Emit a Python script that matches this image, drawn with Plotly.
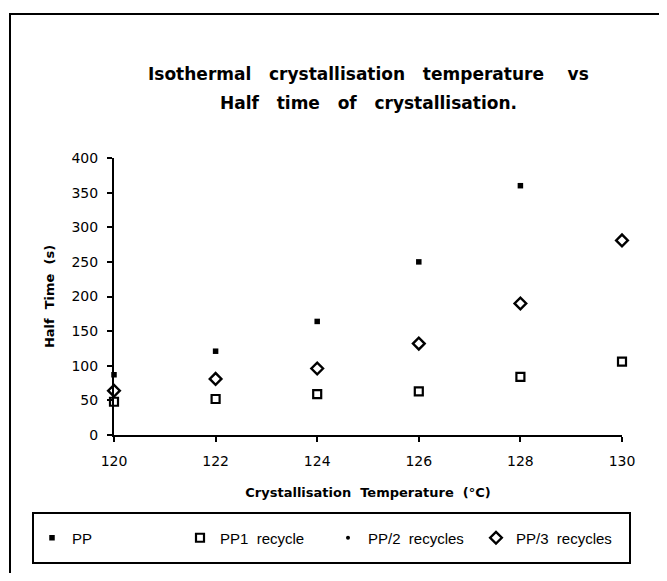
import plotly.graph_objects as go

temps = [120, 122, 124, 126, 128, 130]
pp = [87, 121, 164, 250, 360, None]
pp1 = [48, 52, 59, 63, 84, 106]
pp2 = [None, None, None, None, None, None]
pp3 = [64, 81, 96, 132, 190, 281]
x_ticks = [120, 122, 124, 126, 128, 130]
y_ticks = [0, 50, 100, 150, 200, 250, 300, 350, 400]

NB = "\u00a0"
title_l1 = f"Isothermal{NB}{NB}{NB}crystallisation{NB}{NB}{NB}temperature{NB}{NB}{NB}{NB}vs"
title_l2 = f"Half{NB}{NB}{NB}time{NB}{NB}{NB}of{NB}{NB}{NB}crystallisation."
x_title = f"Crystallisation{NB}{NB}Temperature{NB}{NB}(°C)"
y_title = f"Half{NB}{NB}Time{NB}{NB}(s)"

OFF = 8  # page body margin
W, H = 651, 565
# plot area in page pixels
PL, PR, PT, PB = 114, 622, 158, 435
L, R, T, B = PL - OFF, PR - OFF, PT - OFF, PB - OFF


def px(x):
    return (x - OFF - L) / (R - L)


def py(y):
    return (B - (y - OFF)) / (B - T)


fig = go.Figure()
fig.add_trace(go.Scatter(x=temps, y=pp, mode="markers", name="PP", cliponaxis=False,
                         marker=dict(symbol="square", size=5.5, color="black")))
fig.add_trace(go.Scatter(x=temps, y=pp1, mode="markers", name=f"PP1{NB}{NB}recycle", cliponaxis=False,
                         marker=dict(symbol="square-open", size=8, color="black", line=dict(width=2.2))))
fig.add_trace(go.Scatter(x=temps, y=pp2, mode="markers", name=f"PP/2{NB}{NB}recycles", cliponaxis=False,
                         marker=dict(symbol="circle", size=4, color="black")))
fig.add_trace(go.Scatter(x=temps, y=pp3, mode="markers", name=f"PP/3{NB}{NB}recycles", cliponaxis=False,
                         marker=dict(symbol="diamond-open", size=9, color="black", line=dict(width=2.4))))

axis_font = dict(family="DejaVu Sans", size=14, color="black")
title_font = dict(family="DejaVu Sans", size=17, weight="bold", color="black")

fig.update_layout(
    width=W, height=H,
    margin=dict(l=L, r=W - R, t=T, b=H - B),
    paper_bgcolor="white", plot_bgcolor="white",
    font=dict(family="Liberation Sans, Arial", color="black"),
    annotations=[
        dict(text=title_l1, xref="paper", yref="paper", x=px(368), y=py(74),
             xanchor="center", yanchor="middle", showarrow=False, font=title_font),
        dict(text=title_l2, xref="paper", yref="paper", x=px(368), y=py(103),
             xanchor="center", yanchor="middle", showarrow=False, font=title_font),
    ],
    xaxis=dict(range=[120, 130], tickvals=x_ticks, ticktext=[str(v) for v in x_ticks],
               showline=True, linecolor="black", linewidth=2, mirror=False,
               ticks="outside", ticklen=5, tickwidth=1.5, tickcolor="black",
               ticklabelstandoff=7,
               showgrid=False, zeroline=False, tickfont=axis_font,
               title=dict(text=x_title, standoff=20,
                          font=dict(family="DejaVu Sans", size=13, weight="bold"))),
    yaxis=dict(range=[0, 400], tickvals=y_ticks, ticktext=[str(v) for v in y_ticks],
               showline=True, linecolor="black", linewidth=2,
               ticks="outside", ticklen=5, tickwidth=1.5, tickcolor="black",
               ticklabelstandoff=6,
               showgrid=False, zeroline=False, tickfont=axis_font,
               title=dict(text=y_title, standoff=14,
                          font=dict(family="DejaVu Sans", size=13, weight="bold"))),
    xaxis2=dict(overlaying="x", matches="x", side="bottom", anchor="y", ticks="inside",
                ticklen=5, tickwidth=1.5, tickcolor="black", tickvals=x_ticks,
                showticklabels=False, showgrid=False, zeroline=False, showline=False),
    yaxis2=dict(overlaying="y", matches="y", side="left", anchor="x", ticks="inside",
                ticklen=5, tickwidth=1.5, tickcolor="black", tickvals=y_ticks,
                showticklabels=False, showgrid=False, zeroline=False, showline=False),
    showlegend=True,
    legend=dict(orientation="h", x=px(32), xanchor="left", y=py(538), yanchor="middle",
                entrywidth=103, entrywidthmode="pixels",
                bgcolor="rgba(0,0,0,0)", borderwidth=0,
                font=dict(family="Liberation Sans, Arial", size=15, color="black")),
    shapes=[
        dict(type="rect", xref="paper", yref="paper", x0=px(10), x1=px(700),
             y0=py(620), y1=py(14), line=dict(color="black", width=2)),
        dict(type="rect", xref="paper", yref="paper", x0=px(33), x1=px(630),
             y0=py(563), y1=py(513), line=dict(color="black", width=2)),
    ],
)

fig.write_html("out.html")
